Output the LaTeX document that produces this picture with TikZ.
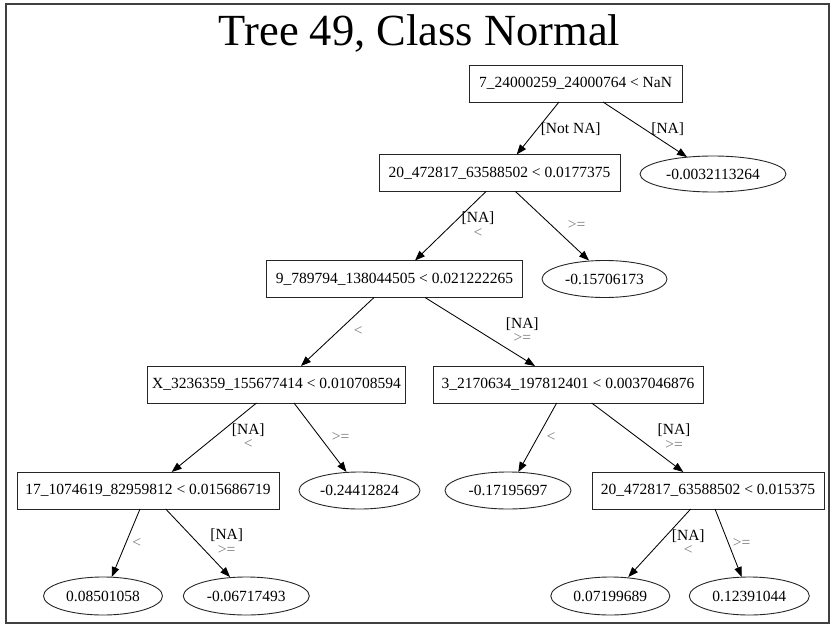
\documentclass[tikz,border=0pt]{standalone}
\usepackage{fontspec}
\setmainfont{Liberation Serif}
\usetikzlibrary{arrows.meta,shapes.geometric}
\definecolor{labgray}{RGB}{120,120,120}
\begin{document}
\begin{tikzpicture}[x=1pt,y=-1pt,
  every node/.style={font=\fontsize{15.5}{18}\selectfont, inner sep=0pt, outer sep=0pt},
  split/.style={draw=black!85, line width=0.9pt, rectangle, minimum height=37pt},
  leaf/.style={draw=black!85, line width=0.9pt, ellipse, minimum height=37pt},
  edge/.style={line width=0.85pt, -{Triangle[length=10pt,width=7.5pt]}},
  cmp/.style={text=labgray}]
\useasboundingbox (0,0) rectangle (835,629);
\draw[line width=1.1pt, black!75] (6,4) rectangle (829,623);
\node[anchor=base, font=\fontsize{44.5}{50}\selectfont] (title) at (419.5,45) {Tree 49, Class Normal};

% split nodes
\node[split, minimum width=213pt] (root) at (575.5,83.5) {7\_24000259\_24000764 < NaN};
\node[split, minimum width=241pt] (n1) at (499.5,173) {20\_472817\_63588502 < 0.0177375};
\node[split, minimum width=256pt] (n2) at (394.5,279) {9\_789794\_138044505 < 0.021222265};
\node[split, minimum width=258pt] (n3) at (276.5,384.5) {X\_3236359\_155677414 < 0.010708594};
\node[split, minimum width=270pt] (n4) at (568,384.5) {3\_2170634\_197812401 < 0.0037046876};
\node[split, minimum width=262pt] (n5) at (148,490.5) {17\_1074619\_82959812 < 0.015686719};
\node[split, minimum width=232pt] (n6) at (708,490.5) {20\_472817\_63588502 < 0.015375};

% leaves
\node[leaf, minimum width=146pt, minimum height=36pt] (l1) at (713,174) {-0.0032113264};
\node[leaf, minimum width=125pt] (l2) at (604.5,279) {-0.15706173};
\node[leaf, minimum width=121pt] (l3) at (359.5,490.5) {-0.24412824};
\node[leaf, minimum width=126pt] (l4) at (508,490.5) {-0.17195697};
\node[leaf, minimum width=119pt, minimum height=38pt] (l5) at (103,596) {0.08501058};
\node[leaf, minimum width=126pt, minimum height=38pt] (l6) at (246.3,596) {-0.06717493};
\node[leaf, minimum width=119pt, minimum height=38pt] (l7) at (610.3,596) {0.07199689};
\node[leaf, minimum width=120pt, minimum height=38pt] (l8) at (749.3,596) {0.12391044};

% edges
\draw[edge] ([xshift=-16.5pt]root.south) -- ([xshift=17.2pt]n1.north);
\draw[edge] ([xshift=27.5pt]root.south) -- ([xshift=-26pt,yshift=-1pt]l1.north);
\draw[edge] ([xshift=-13.5pt]n1.south) -- ([xshift=20.5pt]n2.north);
\draw[edge] ([xshift=16pt]n1.south) -- ([xshift=-15.5pt]l2.north);
\draw[edge] ([xshift=-20.5pt]n2.south) -- ([xshift=24.5pt]n3.north);
\draw[edge] ([xshift=30.5pt]n2.south) -- ([xshift=-33pt]n4.north);
\draw[edge] ([xshift=-20pt]n3.south) -- ([xshift=23.7pt]n5.north);
\draw[edge] ([xshift=17.5pt]n3.south) -- ([xshift=-13pt]l3.north);
\draw[edge] ([xshift=-11.3pt]n4.south) -- ([xshift=10.3pt]l4.north);
\draw[edge] ([xshift=23.7pt]n4.south) -- ([xshift=-24.7pt]n6.north);
\draw[edge] ([xshift=-8pt]n5.south) -- ([xshift=8.7pt]l5.north);
\draw[edge] ([xshift=17.7pt]n5.south) -- ([xshift=-16.3pt]l6.north);
\draw[edge] ([xshift=-17.3pt]n6.south) -- ([xshift=18pt]l7.north);
\draw[edge] ([xshift=7pt]n6.south) -- ([xshift=-7.6pt]l8.north);

% edge labels
\node (e1) at (570.7,129) {[Not NA]};
\node (e2) at (667.7,129) {[NA]};
\node (e3a) at (478,218) {[NA]};
\node[cmp] (e3b) at (478,232.7) {<};
\node[cmp] (e4) at (576.7,225) {>=};
\node[cmp] (e5) at (358.3,330.7) {<};
\node (e6a) at (522.3,324) {[NA]};
\node[cmp] (e6b) at (522.3,338.3) {>=};
\node (e7a) at (248.3,430) {[NA]};
\node[cmp] (e7b) at (248.3,444) {<};
\node[cmp] (e8) at (340.7,436.7) {>=};
\node[cmp] (e9) at (551,436.7) {<};
\node (e10a) at (674,430) {[NA]};
\node[cmp] (e10b) at (674,445) {>=};
\node[cmp] (e11) at (136.7,542.7) {<};
\node (e12a) at (226.7,535) {[NA]};
\node[cmp] (e12b) at (226.7,550) {>=};
\node (e13a) at (688.3,535.7) {[NA]};
\node[cmp] (e13b) at (688.3,550) {<};
\node[cmp] (e14) at (741.7,542.7) {>=};
\end{tikzpicture}
\end{document}
